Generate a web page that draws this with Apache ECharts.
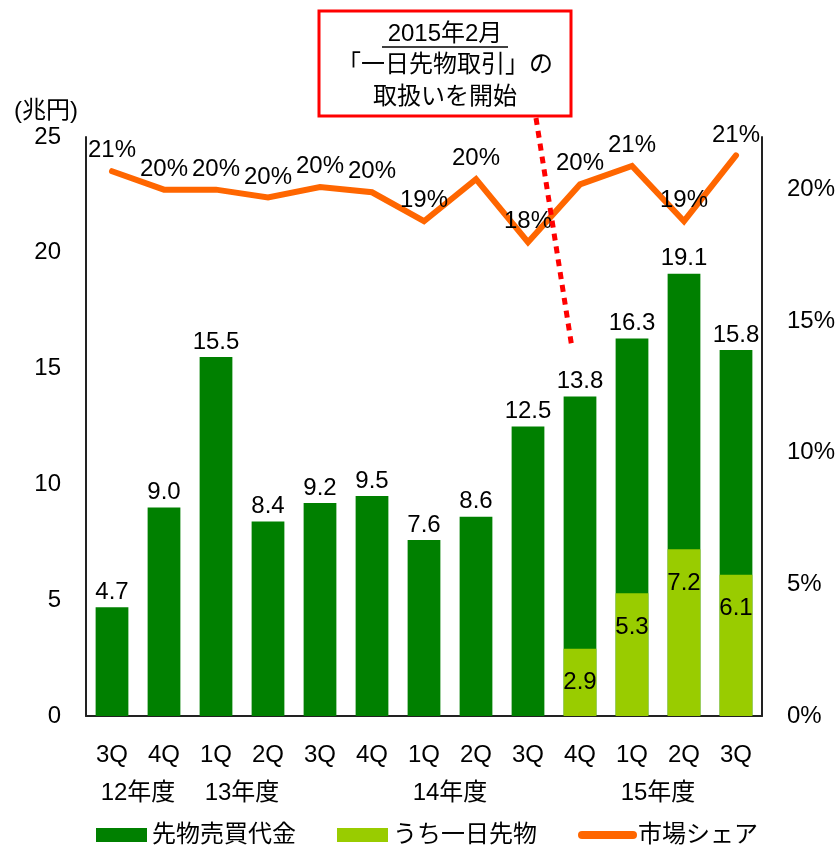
<!DOCTYPE html>
<html>
<head>
<meta charset="utf-8">
<script src="https://cdn.jsdelivr.net/npm/echarts@6/dist/echarts.min.js"></script>
<style>
html,body{margin:0;padding:0;background:#fff;}
#chart{width:840px;height:847px;}
</style>
</head>
<body>
<div id="chart"></div>
<script>
// ---- data ----
var quarters = ['3Q','4Q','1Q','2Q','3Q','4Q','1Q','2Q','3Q','4Q','1Q','2Q','3Q'];
var fiscalYears = ['', '12年度', '', '13年度', '', '', '', '14年度', '', '', '', '15年度', '', ''];
var futuresTurnover = [4.7, 9.0, 15.5, 8.4, 9.2, 9.5, 7.6, 8.6, 12.5, 13.8, 16.3, 19.1, 15.8];
var dayFutures = [null, null, null, null, null, null, null, null, null, 2.9, 5.3, 7.2, 6.1];
var marketShare = [20.7, 20.0, 20.0, 19.7, 20.1, 19.9, 18.8, 20.4, 18.0, 20.2, 20.9, 18.8, 21.3];
var leftTicks = [0, 25, 5];   // min, max, interval
var rightTicks = [0, 22, 5];
var annotationLines = ['2015年2月', '「一日先物取引」の', '取扱いを開始'];

var FONT = '"Liberation Sans", Arial, "Noto Sans CJK JP", sans-serif';
var chart = echarts.init(document.getElementById('chart'));

var option = {
  animation: false,
  backgroundColor: '#ffffff',
  textStyle: { fontFamily: FONT, color: '#000' },
  grid: { left: 86, right: 78, top: 137, bottom: 131, containLabel: false },
  legend: {
    top: 823,
    left: 96,
    padding: 0,
    itemWidth: 51,
    itemHeight: 14,
    itemGap: 41,
    textStyle: { fontSize: 24, color: '#000', fontFamily: FONT },
    data: [
      { name: '先物売買代金', icon: 'rect' },
      { name: 'うち一日先物', icon: 'rect' },
      { name: '市場シェア', lineStyle: { width: 8, cap: 'round', color: '#FF6600' }, itemStyle: { color: 'rgba(0,0,0,0)', opacity: 0 } }
    ]
  },
  xAxis: [
    {
      type: 'category',
      data: quarters,
      position: 'bottom',
      axisLine: { lineStyle: { color: '#222', width: 2 } },
      axisTick: { show: false },
      axisLabel: { interval: 0, margin: 27, fontSize: 24, color: '#000', fontFamily: FONT }
    },
    {
      type: 'category',
      data: fiscalYears,
      boundaryGap: false,
      position: 'bottom',
      axisLine: { show: false },
      axisTick: { show: false },
      splitLine: { show: false },
      axisLabel: { interval: 0, margin: 65, fontSize: 24, color: '#000', fontFamily: FONT }
    }
  ],
  yAxis: [
    {
      type: 'value',
      min: leftTicks[0], max: leftTicks[1], interval: leftTicks[2],
      name: '(兆円)',
      nameLocation: 'end',
      nameGap: 14,
      nameTextStyle: { fontSize: 24, color: '#000', align: 'right', padding: [0, 8, 0, 0], fontFamily: FONT },
      axisLine: { show: true, lineStyle: { color: '#222', width: 2 } },
      axisTick: { show: false },
      splitLine: { show: false },
      axisLabel: { margin: 25, fontSize: 24, color: '#000', fontFamily: FONT }
    },
    {
      type: 'value',
      min: rightTicks[0], max: rightTicks[1], interval: rightTicks[2],
      position: 'right',
      axisLine: { show: true, lineStyle: { color: '#222', width: 2 } },
      axisTick: { show: false },
      splitLine: { show: false },
      axisLabel: { margin: 25, fontSize: 24, color: '#000', showMaxLabel: false, formatter: '{value}%', fontFamily: FONT }
    }
  ],
  series: [
    {
      name: '先物売買代金',
      type: 'bar',
      xAxisIndex: 0, yAxisIndex: 0,
      data: futuresTurnover,
      barWidth: '63%',
      barGap: '-100%',
      itemStyle: { color: '#008000' },
      label: {
        show: true, position: 'top', distance: 3,
        fontSize: 24, color: '#000', fontFamily: FONT,
        formatter: function (p) { return p.value.toFixed(1); }
      },
      z: 2
    },
    {
      name: 'うち一日先物',
      type: 'bar',
      xAxisIndex: 0, yAxisIndex: 0,
      data: dayFutures,
      barWidth: '63%',
      barGap: '-100%',
      itemStyle: { color: '#99CC00' },
      label: {
        show: true, position: 'insideTop', distance: 22,
        fontSize: 24, color: '#000', fontFamily: FONT,
        formatter: function (p) { return p.value == null ? '' : p.value.toFixed(1); }
      },
      z: 3
    },
    {
      name: '市場シェア',
      type: 'line',
      xAxisIndex: 0, yAxisIndex: 1,
      data: marketShare,
      symbol: 'circle',
      symbolSize: 1,
      showSymbol: true,
      lineStyle: { color: '#FF6600', width: 6, cap: 'round', join: 'miter' },
      itemStyle: { color: 'rgba(255,102,0,0)', borderWidth: 0 },
      label: {
        show: true, position: 'top', distance: 8,
        fontSize: 24, color: '#000', fontFamily: FONT,
        formatter: function (p) { return Math.round(p.value) + '%'; }
      },
      labelLayout: { hideOverlap: false },
      z: 5
    }
  ],
  graphic: [
    {
      type: 'line',
      shape: { x1: 536, y1: 118, x2: 572, y2: 348 },
      style: { stroke: '#FF0000', lineWidth: 5, lineDash: [7, 6] },
      z: 100
    },
    {
      type: 'rect',
      shape: { x: 319, y: 11, width: 252, height: 105 },
      style: { fill: '#ffffff', stroke: '#FF0000', lineWidth: 3 },
      z: 101
    },
    {
      type: 'text',
      x: 445, y: 34,
      style: { text: annotationLines[0], font: '24px ' + FONT, fill: '#000', align: 'center', verticalAlign: 'middle' },
      z: 102
    },
    {
      type: 'line',
      shape: { x1: 382, y1: 47, x2: 508, y2: 47 },
      style: { stroke: '#000', lineWidth: 1.5 },
      z: 102
    },
    {
      type: 'text',
      x: 445, y: 65,
      style: { text: annotationLines[1], font: '24px ' + FONT, fill: '#000', align: 'center', verticalAlign: 'middle' },
      z: 102
    },
    {
      type: 'text',
      x: 445, y: 97,
      style: { text: annotationLines[2], font: '24px ' + FONT, fill: '#000', align: 'center', verticalAlign: 'middle' },
      z: 102
    }
  ]
};
chart.setOption(option);
</script>
</body>
</html>
